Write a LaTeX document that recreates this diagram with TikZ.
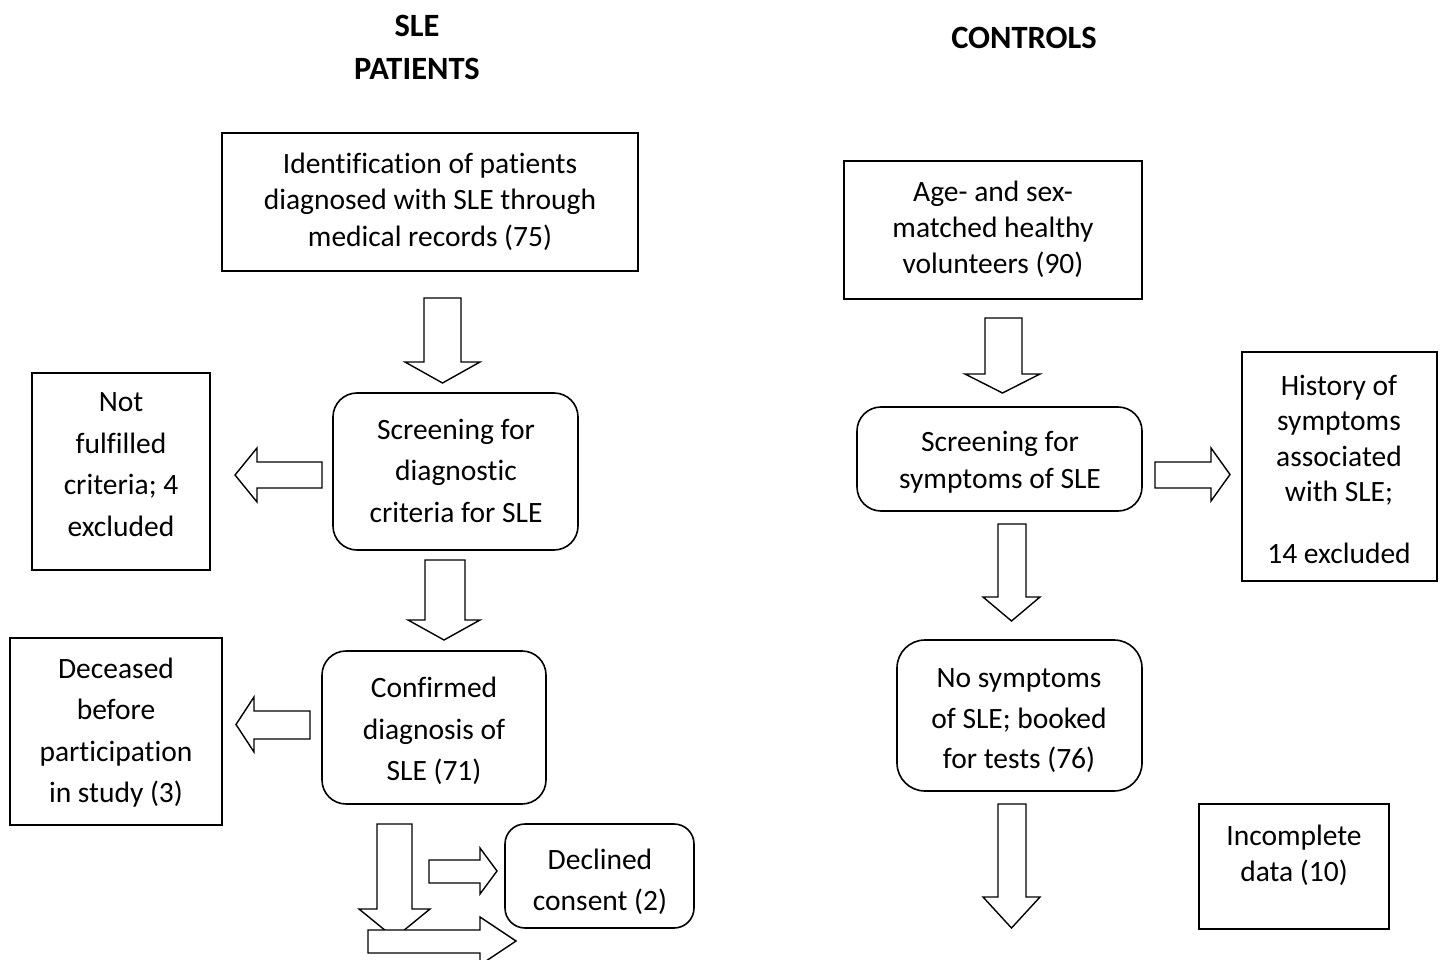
\documentclass[tikz,border=0pt]{standalone}
\usepackage{fontspec}
\setmainfont{Carlito}[Ligatures=NoCommon]
\newcommand\downblock[7]{\draw[blockarrow] (#1,#3) -- (#2,#3) -- (#2,#4) -- (#6,#4) -- ({(#5+#6)/2},#7) -- (#5,#4) -- (#1,#4) -- cycle;}
\newcommand\leftblock[7]{\draw[blockarrow] (#1,#2) -- (#4,#2) -- (#4,#5) -- (#7,{(#5+#6)/2}) -- (#4,#6) -- (#4,#3) -- (#1,#3) -- cycle;}
\newcommand\rightblock[7]{\draw[blockarrow] (#1,#2) -- (#4,#2) -- (#4,#5) -- (#7,{(#5+#6)/2}) -- (#4,#6) -- (#4,#3) -- (#1,#3) -- cycle;}
\tikzset{
  sqbox/.style={draw, line width=1.6pt, inner sep=0pt},
  rdbox/.style={draw, line width=1.6pt, inner sep=0pt, rounded corners=24pt},
  txtA/.style={align=center, inner sep=0pt, yshift=-7pt, font=\fontsize{29.5}{36.5}\selectfont, execute at begin node=\strut, execute at end node=\strut},
  txtB/.style={align=center, inner sep=0pt, yshift=-7pt, font=\fontsize{29.5}{41.5}\selectfont, execute at begin node=\strut, execute at end node=\strut},
  title/.style={align=center, inner sep=0pt, font=\fontsize{32.5}{43}\selectfont\bfseries},
  blockarrow/.style={draw, line width=1.4pt, fill=white, line join=miter},
}
\begin{document}
\begin{tikzpicture}[x=1pt, y=-1pt]
\useasboundingbox (0,0) rectangle (1441,960);
\clip (0,0) rectangle (1441,960);
% titles
\node[title] (tsle) at (417,47) {SLE\\PATIENTS};
\node[title] (tctrl) at (1024,38) {CONTROLS};
% boxes
\node[sqbox, minimum width=416pt, minimum height=138pt] (b1) at (430,202) {};
\node[txtA] (b1t) at (430,198) {Identification of patients\\diagnosed with SLE through\\medical records (75)};
\node[rdbox, minimum width=245pt, minimum height=157pt] (scr1) at (455.5,471.5) {};
\node[txtB] (scr1t) at (456,470) {Screening for\\diagnostic\\criteria for SLE};
\node[sqbox, minimum width=178pt, minimum height=197pt] (notf) at (121,471.5) {};
\node[txtB] (notft) at (121,464) {Not\\fulfilled\\criteria; 4\\excluded};
\node[rdbox, minimum width=224pt, minimum height=153pt] (conf) at (434,727.5) {};
\node[txtB] (conft) at (434,728) {Confirmed\\diagnosis of\\SLE (71)};
\node[sqbox, minimum width=212pt, minimum height=187pt] (dec) at (116,731.5) {};
\node[txtB] (dect) at (116,729.5) {Deceased\\before\\participation\\in study (3)};
\node[rdbox, rounded corners=20pt, minimum width=189pt, minimum height=104pt] (decl) at (599.5,876) {};
\node[txtB] (declt) at (600,879) {Declined\\consent (2)};
\node[sqbox, minimum width=298pt, minimum height=138pt] (ctrl) at (993,230) {};
\node[txtA, font=\fontsize{29.5}{36}\selectfont] (ctrlt) at (993,226) {Age- and sex-\\matched healthy\\volunteers (90)};
\node[rdbox, minimum width=285pt, minimum height=104pt] (scr2) at (999.5,459) {};
\node[txtA] (scr2t) at (1000,458.5) {Screening for\\symptoms of SLE};
\node[sqbox, minimum width=195pt, minimum height=229pt] (hist) at (1339.5,466.5) {};
\node[txtA, font=\fontsize{29.5}{35.5}\selectfont] (histt) at (1339,467.5) {History of\\symptoms\\associated\\with SLE;\\[26.5pt]14 excluded};
\node[rdbox, rounded corners=28pt, minimum width=245pt, minimum height=151pt] (nosym) at (1019.5,715.5) {};
\node[txtB, font=\fontsize{29.5}{40.5}\selectfont] (nosymt) at (1019,718) {No symptoms\\of SLE; booked\\for tests (76)};
\node[sqbox, minimum width=190pt, minimum height=125pt] (inc) at (1294,866.5) {};
\node[txtA, font=\fontsize{29.5}{36}\selectfont] (inct) at (1294,852) {Incomplete\\data (10)};
% block arrows, left column
\downblock{424}{461}{298}{362}{405}{480}{383}
\leftblock{322}{462}{488}{257}{448}{502}{235}
\downblock{425}{465}{560}{620}{408}{480}{640}
\leftblock{310}{711}{739}{254}{697}{752}{236}
\downblock{377}{412}{824}{909}{359}{430}{938}
\rightblock{429}{860}{883}{480}{848}{894}{497}
\rightblock{368}{930}{953}{480}{917}{965}{516}
% block arrows, right column
\downblock{985}{1022}{318}{374}{965}{1040}{393}
\rightblock{1155}{462}{488}{1211}{448}{501}{1230}
\downblock{998}{1026}{524}{597}{983}{1040}{621}
\downblock{998}{1026}{804}{897}{983}{1040}{928}
\end{tikzpicture}
\end{document}
